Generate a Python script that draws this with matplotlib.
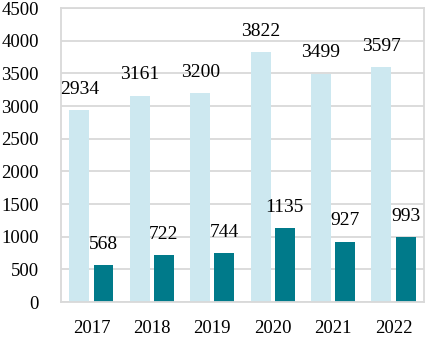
import numpy as np
import matplotlib.pyplot as plt

years = ['2017', '2018', '2019', '2020', '2021', '2022']
total = [2934, 3161, 3200, 3822, 3499, 3597]
part = [568, 722, 744, 1135, 927, 993]

plt.rcParams['font.family'] = ['Liberation Serif', 'DejaVu Serif']

fig = plt.figure(figsize=(4.25, 3.39), dpi=100)
ax = fig.add_axes([0.144, 0.109, 0.853, 0.867])

x = np.arange(len(years))
w = 0.33
b1 = ax.bar(x - 0.2, total, w, color='#CDE8F0', zorder=2)
b2 = ax.bar(x + 0.2, part, w, color='#007A8A', zorder=2)

# value labels above each bar
for bars, vals in ((b1, total), (b2, part)):
    for bar, v in zip(bars, vals):
        ax.annotate(str(v), (bar.get_x() + bar.get_width() / 2, v),
                    xytext=(0, 15), textcoords='offset points',
                    ha='center', va='center', fontsize=14)

ax.set_ylim(0, 4500)
ax.set_yticks(range(0, 4501, 500))
ax.set_xlim(-0.5, 5.5)
ax.set_xticks(x)
ax.set_xticklabels(years)
ax.tick_params(axis='both', length=0, labelsize=13.5)
ax.tick_params(axis='y', pad=16)
ax.tick_params(axis='x', pad=13)
ax.grid(axis='y', color='#D9D9D9', linewidth=1.3, zorder=0)
for s in ax.spines.values():
    s.set_color('#D9D9D9')
    s.set_linewidth(1.3)

fig.savefig('out.png', dpi=100)
